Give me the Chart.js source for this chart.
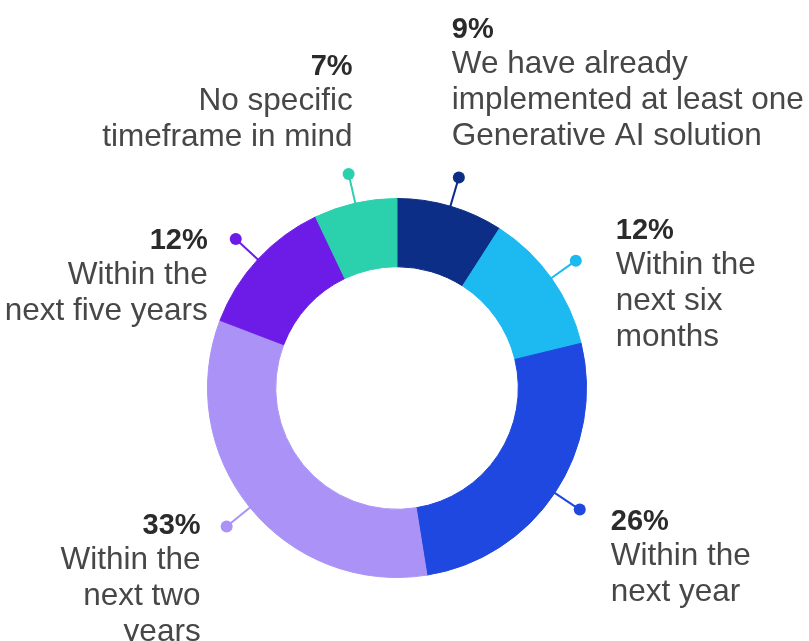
<!DOCTYPE html>
<html>
<head>
<meta charset="utf-8">
<script src="https://cdn.jsdelivr.net/npm/chart.js@4"></script>
<style>
  html, body { margin: 0; padding: 0; background: #fff; }
  #wrap { width: 809px; height: 641px; position: relative; }
</style>
</head>
<body>
<div id="wrap"><canvas id="donut" width="809" height="641"></canvas></div>
<script>
var categories = [
  ["We have already", "implemented at least one", "Generative AI solution"],
  ["Within the", "next six", "months"],
  ["Within the", "next year"],
  ["Within the", "next two", "years"],
  ["Within the", "next five years"],
  ["No specific", "timeframe in mind"]
];
var shares  = [9, 12, 26, 33, 12, 7];
var couleurs = ["#0c2e86", "#1db9f1", "#1f48e0", "#ab92f6", "#6c1ce6", "#2bd0ad"];

// where each label sits relative to its dot
var placement = [
  { dx: -7,  dy: -32, align: "left",  from: "bottom" },
  { dx: 40,  dy: -22, align: "left",  from: "top" },
  { dx: 31,  dy: 20,  align: "left",  from: "top" },
  { dx: -26, dy: 8,   align: "right", from: "top" },
  { dx: -28, dy: 10,  align: "right", from: "top" },
  { dx: 4,   dy: -28, align: "right", from: "bottom" }
];

var LIGNE = 36;
var PREMIERE = 35;

var etiquettes = {
  id: "etiquettes",
  afterDatasetsDraw: function(chart) {
    var ctx = chart.ctx;
    var arcs = chart.getDatasetMeta(0).data;
    arcs.forEach(function(arc, i) {
      var p = arc.getProps(["x", "y", "startAngle", "endAngle", "outerRadius"], true);
      var mid = (p.startAngle + p.endAngle) / 2;
      var r0 = p.outerRadius - 2;
      var r1 = p.outerRadius + 30;
      var x0 = p.x + Math.cos(mid) * r0, y0 = p.y + Math.sin(mid) * r0;
      var x1 = p.x + Math.cos(mid) * r1, y1 = p.y + Math.sin(mid) * r1;

      ctx.save();
      ctx.strokeStyle = couleurs[i];
      ctx.fillStyle = couleurs[i];
      ctx.lineWidth = 2;
      ctx.beginPath();
      ctx.moveTo(x0, y0);
      ctx.lineTo(x1, y1);
      ctx.stroke();
      ctx.beginPath();
      ctx.arc(x1, y1, 6, 0, Math.PI * 2);
      ctx.fill();

      var pl = placement[i];
      var lignes = categories[i];
      var tx = x1 + pl.dx;
      var base = y1 + pl.dy;
      if (pl.from === "bottom") base = base - PREMIERE - (lignes.length - 1) * LIGNE;

      ctx.textAlign = pl.align;
      ctx.textBaseline = "alphabetic";
      ctx.fillStyle = "#2b2b2b";
      ctx.font = "bold 29px 'Liberation Sans', Arial, sans-serif";
      ctx.fillText(shares[i] + "%", tx, base);
      ctx.fillStyle = "#474747";
      ctx.font = "31.5px 'Liberation Sans', Arial, sans-serif";
      lignes.forEach(function(l, k) {
        ctx.fillText(l, tx, base + PREMIERE + k * LIGNE);
      });
      ctx.restore();
    });
  }
};

new Chart(document.getElementById("donut"), {
  type: "doughnut",
  data: {
    labels: categories.map(function(c) { return c.join(" "); }),
    datasets: [{
      data: shares,
      backgroundColor: couleurs,
      borderColor: couleurs,
      borderWidth: 1
    }]
  },
  options: {
    responsive: false,
    animation: false,
    cutout: "64%",
    layout: { padding: { left: 207, right: 222, top: 198, bottom: 63 } },
    plugins: {
      legend: { display: false },
      tooltip: { enabled: false }
    }
  },
  plugins: [etiquettes]
});
</script>
</body>
</html>
